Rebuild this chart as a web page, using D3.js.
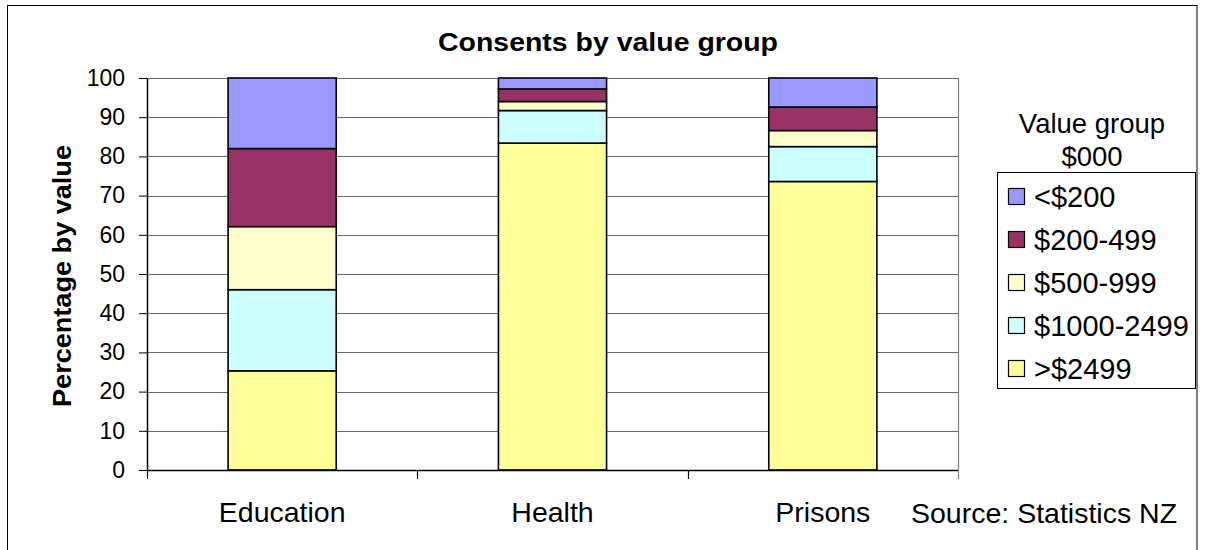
<!DOCTYPE html>
<html>
<head>
<meta charset="utf-8">
<script src="https://cdn.jsdelivr.net/npm/d3@7"></script>
<style>
  html, body { margin: 0; padding: 0; background: #fff; }
  svg { display: block; font-family: "Liberation Sans", Arial, sans-serif; }
</style>
</head>
<body>
<svg id="chart" width="1208" height="550"></svg>
<script>
// Building consents, share of value by value group ($000)
const categories = ["Education", "Health", "Prisons"];
const groups = ["<$200", "$200-499", "$500-999", "$1000-2499", ">$2499"];
const colors = ["#9999FF", "#993366", "#FFFFCC", "#CCFFFF", "#FFFF99"];
// percentage by value, one array per value group, in category order
const under200 = [18.0, 2.8, 7.4];
const v200to499 = [19.9, 3.2, 6.0];
const v500to999 = [16.1, 2.3, 4.1];
const v1000to2499 = [20.7, 8.3, 8.9];
const over2499 = [25.3, 83.4, 73.6];
const yTicks = [0, 10, 20, 30, 40, 50, 60, 70, 80, 90, 100];

const seriesValues = [under200, v200to499, v500to999, v1000to2499, over2499];

const svg = d3.select("#chart");

// outer chart border
svg.append("rect")
  .attr("x", 7.5).attr("y", 5.5)
  .attr("width", 1189.5).attr("height", 560)
  .attr("fill", "#fff").attr("stroke", "#000").attr("stroke-width", 1);

const plot = { left: 147, right: 958, top: 78, bottom: 470 };

const y = d3.scaleLinear().domain([0, 100]).range([plot.bottom, plot.top]);
const x = d3.scaleBand().domain(categories)
  .range([plot.left, plot.right])
  .paddingInner(0.6).paddingOuter(0.3);

// gridlines
svg.append("g").selectAll("line")
  .data(yTicks.filter(d => d > 0))
  .join("line")
  .attr("x1", plot.left).attr("x2", plot.right)
  .attr("y1", d => Math.round(y(d)) + 0.5).attr("y2", d => Math.round(y(d)) + 0.5)
  .attr("stroke", "#6a6a6a").attr("stroke-width", 1);

// right edge of plot area
svg.append("line")
  .attr("x1", plot.right + 0.5).attr("x2", plot.right + 0.5)
  .attr("y1", plot.top).attr("y2", plot.bottom)
  .attr("stroke", "#808080").attr("stroke-width", 1.2);

// stacked bars, bottom-up from the largest value group
const rows = categories.map((c, i) => {
  const r = { category: c };
  groups.forEach((g, k) => { r[g] = seriesValues[k][i]; });
  return r;
});
const stackKeys = groups.slice().reverse();
const stacked = d3.stack().keys(stackKeys)(rows);
const colorOf = d3.scaleOrdinal().domain(groups).range(colors);

svg.append("g").selectAll("g")
  .data(stacked)
  .join("g")
  .attr("fill", d => colorOf(d.key))
  .selectAll("rect")
  .data(d => d)
  .join("rect")
  .attr("x", d => x(d.data.category))
  .attr("width", x.bandwidth())
  .attr("y", d => y(d[1]))
  .attr("height", d => y(d[0]) - y(d[1]))
  .attr("stroke", "#000").attr("stroke-width", 1.6);

// y axis
const yAxis = svg.append("g")
  .attr("transform", `translate(${plot.left},0)`)
  .call(d3.axisLeft(y).tickValues(yTicks).tickSize(8).tickSizeOuter(0).tickPadding(14));
yAxis.select(".domain").attr("stroke", "#000").attr("stroke-width", 1.5);
yAxis.selectAll(".tick line").attr("stroke", "#000");
yAxis.selectAll("text").attr("font-size", 23).attr("fill", "#000")
  .attr("font-family", "Liberation Sans, Arial, sans-serif");

// x axis: baseline, tick marks between categories, labels under each bar
const bounds = d3.range(categories.length + 1)
  .map(i => plot.left + i * (plot.right - plot.left) / categories.length);
svg.append("line")
  .attr("x1", plot.left).attr("x2", plot.right)
  .attr("y1", plot.bottom + 0.5).attr("y2", plot.bottom + 0.5)
  .attr("stroke", "#000").attr("stroke-width", 1.5);
svg.append("g").selectAll("line")
  .data(bounds)
  .join("line")
  .attr("x1", d => Math.round(d) + 0.5).attr("x2", d => Math.round(d) + 0.5)
  .attr("y1", plot.bottom).attr("y2", plot.bottom + 9)
  .attr("stroke", (d, i) => i === bounds.length - 1 ? "#808080" : "#000")
  .attr("stroke-width", 1.2);

svg.append("g").selectAll("text")
  .data(categories)
  .join("text")
  .attr("x", d => x(d) + x.bandwidth() / 2)
  .attr("y", 522)
  .attr("text-anchor", "middle")
  .attr("font-size", 28.5)
  .text(d => d);

// title
svg.append("text")
  .attr("x", 608).attr("y", 51)
  .attr("text-anchor", "middle")
  .attr("font-size", 26).attr("font-weight", "bold")
  .attr("textLength", 340).attr("lengthAdjust", "spacingAndGlyphs")
  .text("Consents by value group");

// y axis title
svg.append("text")
  .attr("transform", "translate(71,276) rotate(-90)")
  .attr("text-anchor", "middle")
  .attr("font-size", 26).attr("font-weight", "bold")
  .attr("textLength", 262).attr("lengthAdjust", "spacingAndGlyphs")
  .text("Percentage by value");

// legend
const legendTitle = svg.append("text")
  .attr("text-anchor", "middle")
  .attr("font-size", 27.5);
legendTitle.append("tspan").attr("x", 1092).attr("y", 133).text("Value group");
legendTitle.append("tspan").attr("x", 1092).attr("y", 166).text("$000");

svg.append("rect")
  .attr("x", 997.5).attr("y", 172.5)
  .attr("width", 198).attr("height", 216)
  .attr("fill", "#fff").attr("stroke", "#000").attr("stroke-width", 1);

const legendRows = svg.append("g").selectAll("g")
  .data(groups)
  .join("g")
  .attr("transform", (d, i) => `translate(0,${207 + i * 43})`);
legendRows.append("rect")
  .attr("x", 1008.5).attr("y", -18.5)
  .attr("width", 16).attr("height", 16)
  .attr("fill", d => colorOf(d))
  .attr("stroke", "#000").attr("stroke-width", 1.2);
legendRows.append("text")
  .attr("x", 1034).attr("y", 0)
  .attr("font-size", 29)
  .text(d => d);

// source note
svg.append("text")
  .attr("x", 911).attr("y", 523)
  .attr("font-size", 28.5)
  .text("Source: Statistics NZ");
</script>
</body>
</html>
